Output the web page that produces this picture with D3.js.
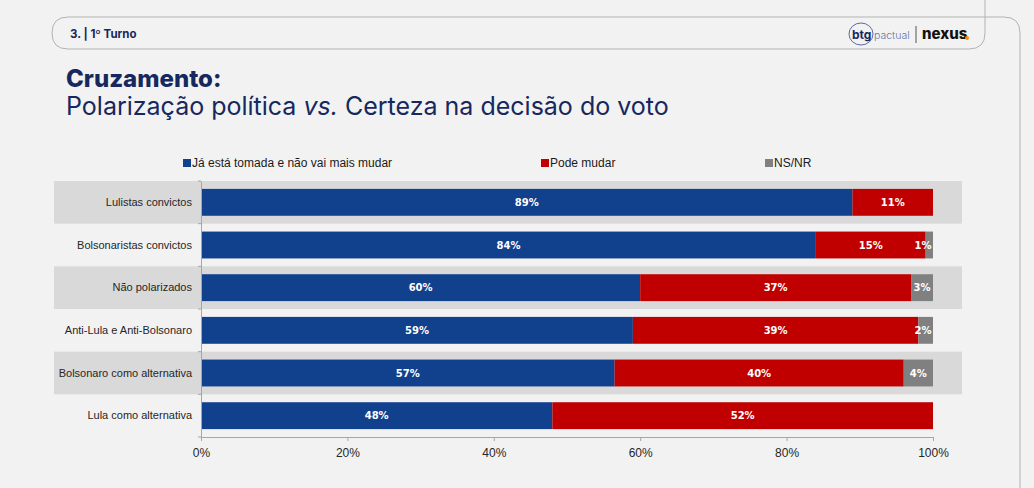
<!DOCTYPE html>
<html>
<head>
<meta charset="utf-8">
<script src="https://cdn.jsdelivr.net/npm/d3@7"></script>
<style>
  body { margin: 0; background: #f2f2f2; }
  svg { display: block; }
</style>
</head>
<body>
<svg id="chart" width="1034" height="488"></svg>
<script>
// data
const categories = ["Lulistas convictos", "Bolsonaristas convictos", "Não polarizados",
  "Anti-Lula e Anti-Bolsonaro", "Bolsonaro como alternativa", "Lula como alternativa"];
const seriesNames = ["Já está tomada e não vai mais mudar", "Pode mudar", "NS/NR"];
const jaTomada = [89, 84, 60, 59, 56.5, 48];
const podeMudar = [11, 15, 37, 39, 39.5, 52];
const nsnr = [0, 1, 3, 2, 4, 0];
const xTicks = [0, 20, 40, 60, 80, 100];
const colors = ["#11408d", "#c00000", "#808080"];

const svg = d3.select("#chart");

// slide frame
svg.append("rect").attr("width", 1034).attr("height", 488).attr("fill", "#f2f2f2");
svg.append("path")
  .attr("d", "M52,33 Q52,17 68,17 L1004,17 Q1020,17 1020,33 L1020,488")
  .attr("fill", "none").attr("stroke", "#b3b3b3").attr("stroke-width", 1);
svg.append("path")
  .attr("d", "M985,0 L985,33 Q985,49 969,49 L68,49 Q52,49 52,33")
  .attr("fill", "none").attr("stroke", "#b3b3b3").attr("stroke-width", 1);

svg.append("text").attr("x", 70).attr("y", 38)
  .attr("font-family", "Inter, 'Open Sans', sans-serif").attr("font-weight", 700)
  .attr("font-size", 11.5).attr("fill", "#16285e").text("3. | 1º Turno");

// logo
const logo = svg.append("g");
logo.append("ellipse").attr("cx", 861).attr("cy", 34).attr("rx", 12).attr("ry", 11)
  .attr("fill", "none").attr("stroke", "#4a5a96").attr("stroke-width", 0.9);
logo.append("text").attr("x", 852).attr("y", 39).attr("font-family", "Inter, sans-serif")
  .attr("font-weight", 700).attr("font-size", 12).attr("fill", "#16285e").text("btg");
logo.append("text").attr("x", 874).attr("y", 39).attr("font-family", "Inter, sans-serif")
  .attr("font-weight", 300).attr("font-size", 10.5).attr("fill", "#6672a6").text("pactual");
logo.append("line").attr("x1", 916).attr("x2", 916).attr("y1", 26).attr("y2", 43)
  .attr("stroke", "#555").attr("stroke-width", 1);
logo.append("text").attr("x", 922).attr("y", 39).attr("font-family", "Inter, 'Open Sans', sans-serif")
  .attr("font-weight", 800).attr("font-size", 15).attr("fill", "#111").text("nexus");
logo.append("circle").attr("cx", 967).attr("cy", 38).attr("r", 2).attr("fill", "#f39200");

// titles
svg.append("text").attr("x", 66).attr("y", 87)
  .attr("font-family", "Inter, 'Open Sans', sans-serif").attr("font-weight", 800)
  .attr("font-size", 24).attr("fill", "#16285e").text("Cruzamento:");
const sub = svg.append("text").attr("x", 66).attr("y", 115)
  .attr("font-family", "Inter, 'Open Sans', sans-serif").attr("font-weight", 400)
  .attr("font-size", 25).attr("fill", "#16285e");
sub.append("tspan").text("Polarização política ");
sub.append("tspan").attr("font-style", "italic").text("vs.");
sub.append("tspan").text(" Certeza na decisão do voto");

// scales
const x = d3.scaleLinear().domain([0, 100]).range([201, 933]);
const yBand = d3.scaleBand().domain(categories).range([181, 437]);
const y = d3.scaleBand().domain(categories).range([181, 437]).paddingInner(0.37).paddingOuter(0.185);

// alternate row shading
svg.append("g").selectAll("rect")
  .data(categories.filter((d, i) => i % 2 === 0))
  .join("rect")
  .attr("x", 54).attr("width", 962 - 54)
  .attr("y", d => yBand(d)).attr("height", yBand.bandwidth())
  .attr("fill", "#d9d9d9");

// stacked bars
const rows = categories.map((c, i) => ({ cat: c, ja: jaTomada[i], pode: podeMudar[i], ns: nsnr[i] }));
const stack = d3.stack().keys(["ja", "pode", "ns"])(rows);

const layers = svg.append("g").selectAll("g")
  .data(stack).join("g")
  .attr("fill", (d, i) => colors[i]);

layers.selectAll("rect")
  .data(d => d.filter(s => s[1] - s[0] > 0))
  .join("rect")
  .attr("x", d => x(d[0]))
  .attr("width", d => x(d[1]) - x(d[0]))
  .attr("y", d => y(d.data.cat))
  .attr("height", y.bandwidth());

layers.selectAll("text")
  .data(d => d.filter(s => s[1] - s[0] > 0))
  .join("text")
  .attr("x", d => Math.min((x(d[0]) + x(d[1])) / 2, x(100) - 10))
  .attr("y", d => y(d.data.cat) + y.bandwidth() / 2)
  .attr("dy", "0.35em")
  .attr("text-anchor", "middle")
  .attr("font-family", "'DejaVu Sans', Verdana, sans-serif")
  .attr("font-weight", 700).attr("font-size", 10)
  .attr("fill", "#fff")
  .text(d => d3.format(".0f")(d[1] - d[0]) + "%");

// axes
const xAxis = svg.append("g").attr("transform", "translate(0,437)")
  .call(d3.axisBottom(x).tickValues(xTicks).tickFormat(d => d + "%").tickSize(4).tickSizeOuter(0));
xAxis.select(".domain").attr("stroke", "#a6a6a6");
xAxis.selectAll(".tick line").attr("stroke", "#a6a6a6");
xAxis.selectAll(".tick text").attr("font-family", "'Liberation Sans', Arial, sans-serif")
  .attr("font-size", 12).attr("fill", "#262626").attr("dy", "1.1em");

const yAxis = svg.append("g").attr("transform", "translate(201,0)")
  .call(d3.axisLeft(yBand).tickSize(0).tickPadding(9));
yAxis.select(".domain").attr("stroke", "#a6a6a6");
yAxis.selectAll(".tick text").attr("font-family", "'Liberation Sans', Arial, sans-serif")
  .attr("font-size", 11).attr("fill", "#262626");
// small ticks at band boundaries
yAxis.append("g").selectAll("line")
  .data(categories.map(c => yBand(c)).concat([437]))
  .join("line")
  .attr("x1", -3).attr("x2", 0).attr("y1", d => d).attr("y2", d => d)
  .attr("stroke", "#a6a6a6");

// legend
const legendX = [183, 541, 765];
const legend = svg.append("g").selectAll("g")
  .data(seriesNames).join("g")
  .attr("transform", (d, i) => `translate(${legendX[i]},159)`);
legend.append("rect").attr("width", 8).attr("height", 8).attr("fill", (d, i) => colors[i]);
legend.append("text").attr("x", 9).attr("y", 8)
  .attr("font-family", "'Liberation Sans', Arial, sans-serif")
  .attr("font-size", 12).attr("fill", "#1a1a1a").text(d => d);
</script>
</body>
</html>
